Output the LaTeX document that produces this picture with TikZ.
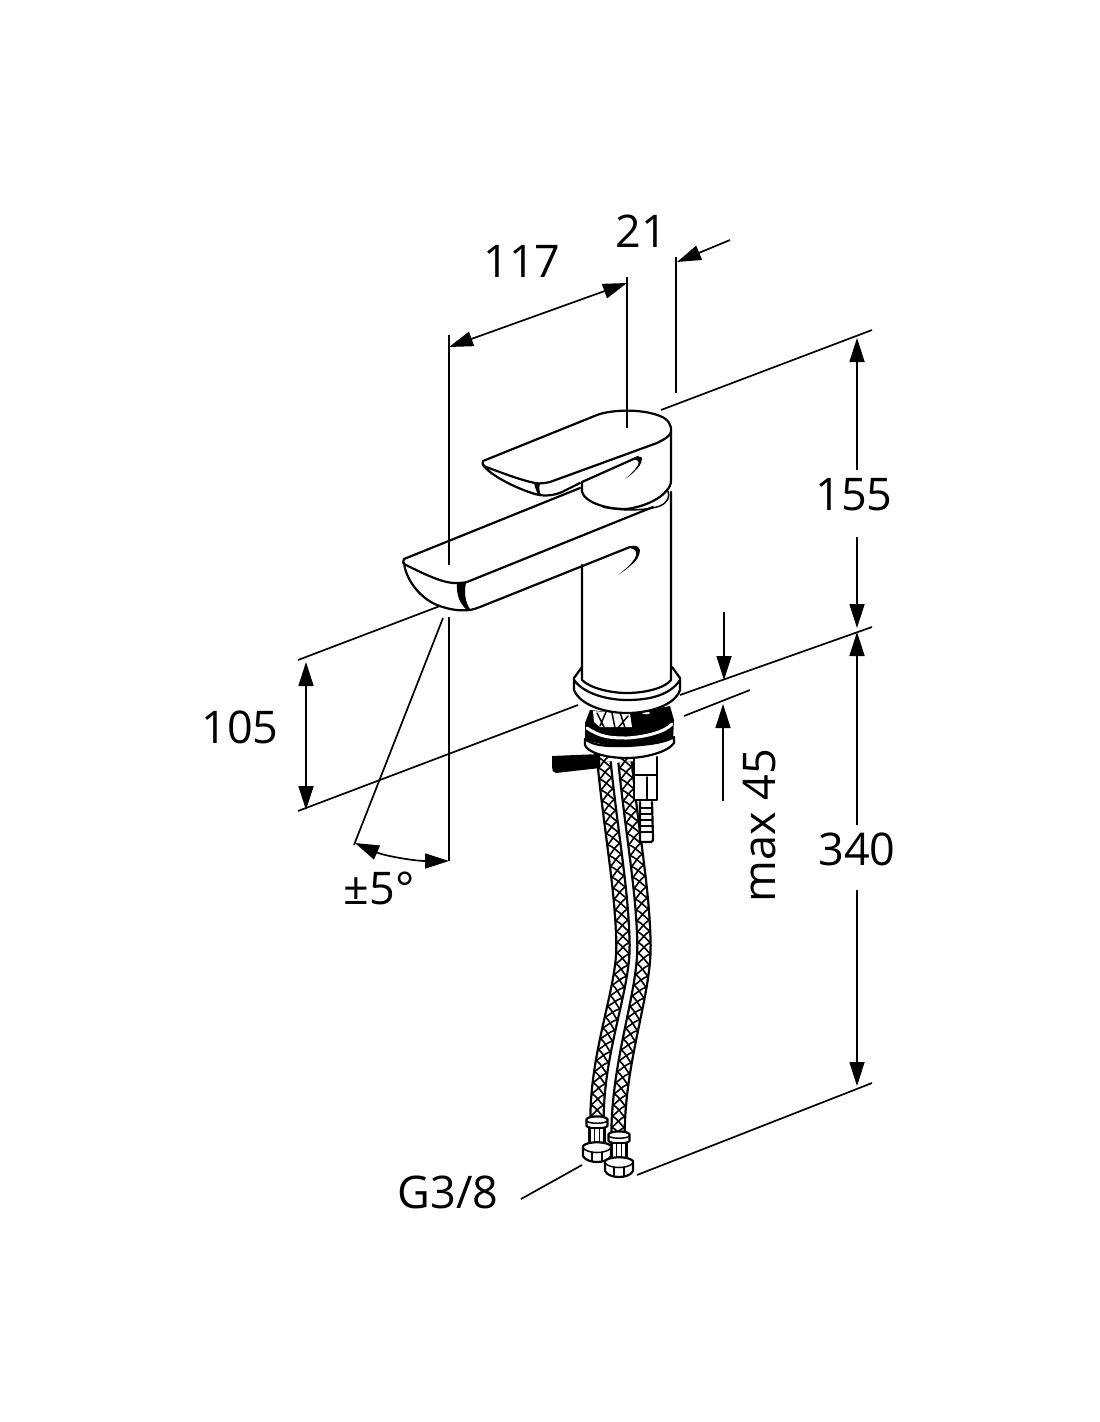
\documentclass[tikz,border=0pt]{standalone}
\usepackage{fontspec}
\setmainfont{Open Sans}
\usetikzlibrary{arrows.meta,decorations.markings}
\tikzset{
  part/.style={line width=2.2pt,line join=round,line cap=round},
  thinpart/.style={line width=1.5pt,line join=round,line cap=round},
  dimline/.style={line width=1.7pt},
  dimarrow/.style={line width=1.7pt,{Triangle[length=24pt,width=15pt]}-{Triangle[length=24pt,width=15pt]}},
  endarrow/.style={line width=1.7pt,-{Triangle[length=24pt,width=15pt]}},
  dimtext/.style={font=\fontsize{45}{45}\selectfont,inner sep=0pt,text=black},
  hoseouter/.style={line width=15.5pt,black},
  hoseinner/.style={line width=11pt,white},
  braid/.style={decorate,decoration={markings,mark=between positions 0 and 1 step 11pt with {
     \draw[line width=1.6pt,black] (-5.5pt,-6pt) .. controls (-3pt,-1pt) and (2pt,2pt) .. (5.5pt,6pt);
     \draw[line width=1.6pt,black] (-5.5pt,6pt) .. controls (-3pt,1pt) and (2pt,-2pt) .. (5.5pt,-6pt);
  }}},
  fitting/.pic={
    \draw[part,fill=white] (-10.5,2) .. controls (-7,-1.5) and (7,-1.5) .. (10.5,2) -- (10.5,9) .. controls (7,12.5) and (-7,12.5) .. (-10.5,9) -- cycle;
    \draw[thinpart] (-10.5,4) .. controls (-7,7) and (7,7) .. (10.5,4);
    \draw[part,fill=white] (-7.5,11) -- (-7.5,27) -- (7.5,27) -- (7.5,11) -- cycle;
    \draw[thinpart] (-2.5,12) -- (-2.5,26) (2.5,12) -- (2.5,26);
    \draw[part,fill=white] (-14,29) .. controls (-10,24) and (10,24) .. (14,29) -- (14,39) .. controls (10,47) and (-10,47) .. (-14,39) -- cycle;
    \draw[thinpart] (-14,31) .. controls (-9,37) and (9,37) .. (14,31);
    \draw[thinpart] (-5,35) -- (-5,44) (5,35) -- (5,44);
  }
}
\begin{document}
\begin{tikzpicture}[x=1pt,y=-1pt]
\useasboundingbox (0,0) rectangle (1100,1422);
% ---- hoses
\foreach \p in {
  {(604,762) .. controls (612,840) and (622,890) .. (623,945) .. controls (623.5,990) and (597,1050) .. (597,1120)},
  {(625,762) .. controls (633,840) and (643,890) .. (644,945) .. controls (644.5,995) and (618,1060) .. (618,1136)}}{
  \draw[hoseouter] \p;
  \draw[hoseinner] \p;
  \path[braid] \p;
}
% ---- fittings at hose ends
\pic at (597,1117) {fitting};
\pic at (619,1132) {fitting};
% ---- valve connector
\draw[part,fill=white] (634,758) -- (634,800) -- (657,800) -- (657,757);
\draw[thinpart] (634,775) -- (657,775) (647,777) -- (647,800);
\draw[part,fill=white] (640,802) -- (640,842) -- (651,842) .. controls (653,842) and (653,840) .. (653,838) -- (652,802);
\foreach \yy in {808,814,820,826,832}{\draw[thinpart] (640,\yy) -- (652,\yy);}
% ---- lever
\fill[black] (552,756) -- (600,754) -- (600,768) -- (556,773) .. controls (553,773) and (552,770) .. (552,767) -- cycle;
% ---- threaded black parts under the flange
\fill[black] (585,723) -- (590,710) -- (627,714) -- (670,706) -- (674,720) -- (673,740) -- (625,750) -- (585,740) -- cycle;
\fill[white] (593,711) -- (630,714) -- (632,727) -- (600,727) -- (594,722) -- cycle;
\draw[thinpart,black] (597,713) -- (604,727) (606,712) -- (600,726) (612,713) -- (615,728) (620,712) -- (625,728) (628,716) -- (618,728);
\fill[white] (646,713) ellipse (4pt and 1.3pt);
\draw[line width=3pt,white,line cap=round] (587,728) .. controls (600,737) and (610,738) .. (627,738) .. controls (645,737) and (665,732) .. (672,724);
\draw[part,fill=white] (585,739) .. controls (595,747) and (610,746) .. (627,746) .. controls (645,745) and (665,743) .. (674,737) -- (674,743) .. controls (668,752) and (645,758) .. (627,758) .. controls (605,758) and (587,752) .. (585,745) -- cycle;
% ---- flange
\draw[part,fill=white] (582,667) -- (574,678) -- (574,690) .. controls (580,705) and (605,713) .. (627,713) .. controls (650,713) and (675,705) .. (680,690) -- (680,678) -- (672,667);
\draw[part] (574,680) .. controls (585,695) and (610,700) .. (627,700) .. controls (650,700) and (670,695) .. (680,680);
% ---- body
\draw[part] (582,565) -- (582,680) .. controls (590,688) and (610,693) .. (627,693) .. controls (645,693) and (665,688) .. (671,680) -- (671,492);
% ---- spout
\draw[part] (580,488) -- (404,559) .. controls (402,561) and (403,564) .. (406,565) .. controls (420,572) and (440,582) .. (453,583) .. controls (458,583) and (463,583) .. (467,582) -- (653,507);
\draw[part] (404,563) .. controls (406,580) and (420,598) .. (437,605) .. controls (450,610) and (460,611) .. (470,610) .. controls (476,609) and (482,606) .. (490,603) -- (630,547);
\path[fill=black] (457,583) .. controls (456,595) and (460,604) .. (467,610) -- (470,609) .. controls (465,602) and (464,592) .. (466,583) -- cycle;
\path[fill=black] (630,546.5) .. controls (634,545) and (638,545) .. (640,550) .. controls (640,556) and (636,562) .. (630,566) .. controls (626,570) and (622,572) .. (618,575) .. controls (624,570) and (630,566) .. (635,558) .. controls (638,553) and (636,549) .. (630,548) -- cycle;
% ---- handle
\draw[part] (483,461) -- (597,415) .. controls (610,410) and (640,408) .. (660,416) .. controls (668,419) and (672,425) .. (671,432) .. controls (670,436) and (665,439) .. (657,443) -- (550,482) .. controls (545,483) and (540,484) .. (535,483) .. controls (520,480) and (500,472) .. (486,467) .. controls (482,465) and (482,463) .. (483,461);
\draw[part] (483,465) .. controls (490,475) and (515,488) .. (535,494) .. controls (545,497) and (555,495) .. (562,492) -- (580,483);
\draw[part] (582,482) -- (638,457);
\path[fill=black] (534,483) .. controls (535,488) and (537,492) .. (538,495) -- (541,495) .. controls (539,491) and (539,487) .. (540,484) -- cycle;
\path[fill=black] (632,459) .. controls (636,456) and (641,456) .. (642,458) .. controls (642,464) and (638,468) .. (634,472) .. controls (631,475) and (628,477) .. (625,479) .. controls (630,475) and (635,470) .. (638,465) .. controls (640,461) and (637,459) .. (632,460) -- cycle;
\draw[part] (671,432) -- (671,480) .. controls (671,485) and (669,488) .. (667,490) .. controls (660,500) and (640,508) .. (625,509) .. controls (605,509) and (585,502) .. (582,492) -- (582,482);
\draw[thinpart] (668,491) .. controls (670,497) and (668,502) .. (660,506) .. controls (645,511) and (620,511) .. (603,507);
% ---- dimension geometry
\coordinate (extA1) at (449,335); \coordinate (extA2) at (449,565);
\coordinate (extA3) at (449,617); \coordinate (extA4) at (449,861);
\coordinate (extB1) at (627,277); \coordinate (extB2) at (627,428);
\coordinate (extC1) at (676,257); \coordinate (extC2) at (676,393);
\coordinate (topE1) at (661,410); \coordinate (topE2) at (872,330);
\coordinate (midE1) at (298,660); \coordinate (midE2) at (440,606);
\coordinate (ctrE1) at (298,811); \coordinate (ctrE2) at (578,705);
\coordinate (ctrE3) at (680,695); \coordinate (ctrE4) at (872,627);
\coordinate (lowE1) at (684,716); \coordinate (lowE2) at (750,690);
\coordinate (botE1) at (637,1175); \coordinate (botE2) at (872,1083);
\draw[dimline] (extA1) -- (extA2) (extA3) -- (extA4);
\draw[dimline] (extB1) -- (extB2);
\draw[dimline] (extC1) -- (extC2);
\draw[dimline] (topE1) -- (topE2);
\draw[dimline] (midE1) -- (midE2);
\draw[dimline] (ctrE1) -- (ctrE2);
\draw[dimline] (ctrE3) -- (ctrE4);
\draw[dimline] (lowE1) -- (lowE2);
\draw[dimline] (botE1) -- (botE2);
\draw[dimarrow] (449,347) -- (627,283);
\draw[endarrow] (730,240) -- (677,262);
\draw[endarrow] (857,470) -- (857,338);
\draw[endarrow] (857,537) -- (857,628);
\draw[endarrow] (857,825) -- (857,632);
\draw[endarrow] (857,890) -- (857,1086);
\draw[dimarrow] (306,662) -- (306,810);
\draw[endarrow] (724,612) -- (724,680);
\draw[endarrow] (723,801) -- (723,704);
\coordinate (angA) at (443,618); \coordinate (angB) at (354,845);
\draw[dimline] (angA) -- (angB);
\draw[dimarrow] (355,843) .. controls (385,856) and (415,861) .. (449,861);
\coordinate (leadA) at (521,1199); \coordinate (leadB) at (582,1165);
\draw[dimline] (leadA) -- (leadB);
% ---- labels
\node[dimtext] (l117) at (522,261) {117};
\node[dimtext] (l21) at (641,231) {21};
\node[dimtext] (l155) at (854,495) {155};
\node[dimtext] (l105) at (240,727) {105};
\node[dimtext] (l340) at (857,849) {340};
\node[dimtext] (l5) at (379,888) {±5°};
\node[dimtext] (lg) at (448,1192) {G3/8};
\node[dimtext,rotate=90] (lmax) at (760,826) {max 45};
\end{tikzpicture}
\end{document}
